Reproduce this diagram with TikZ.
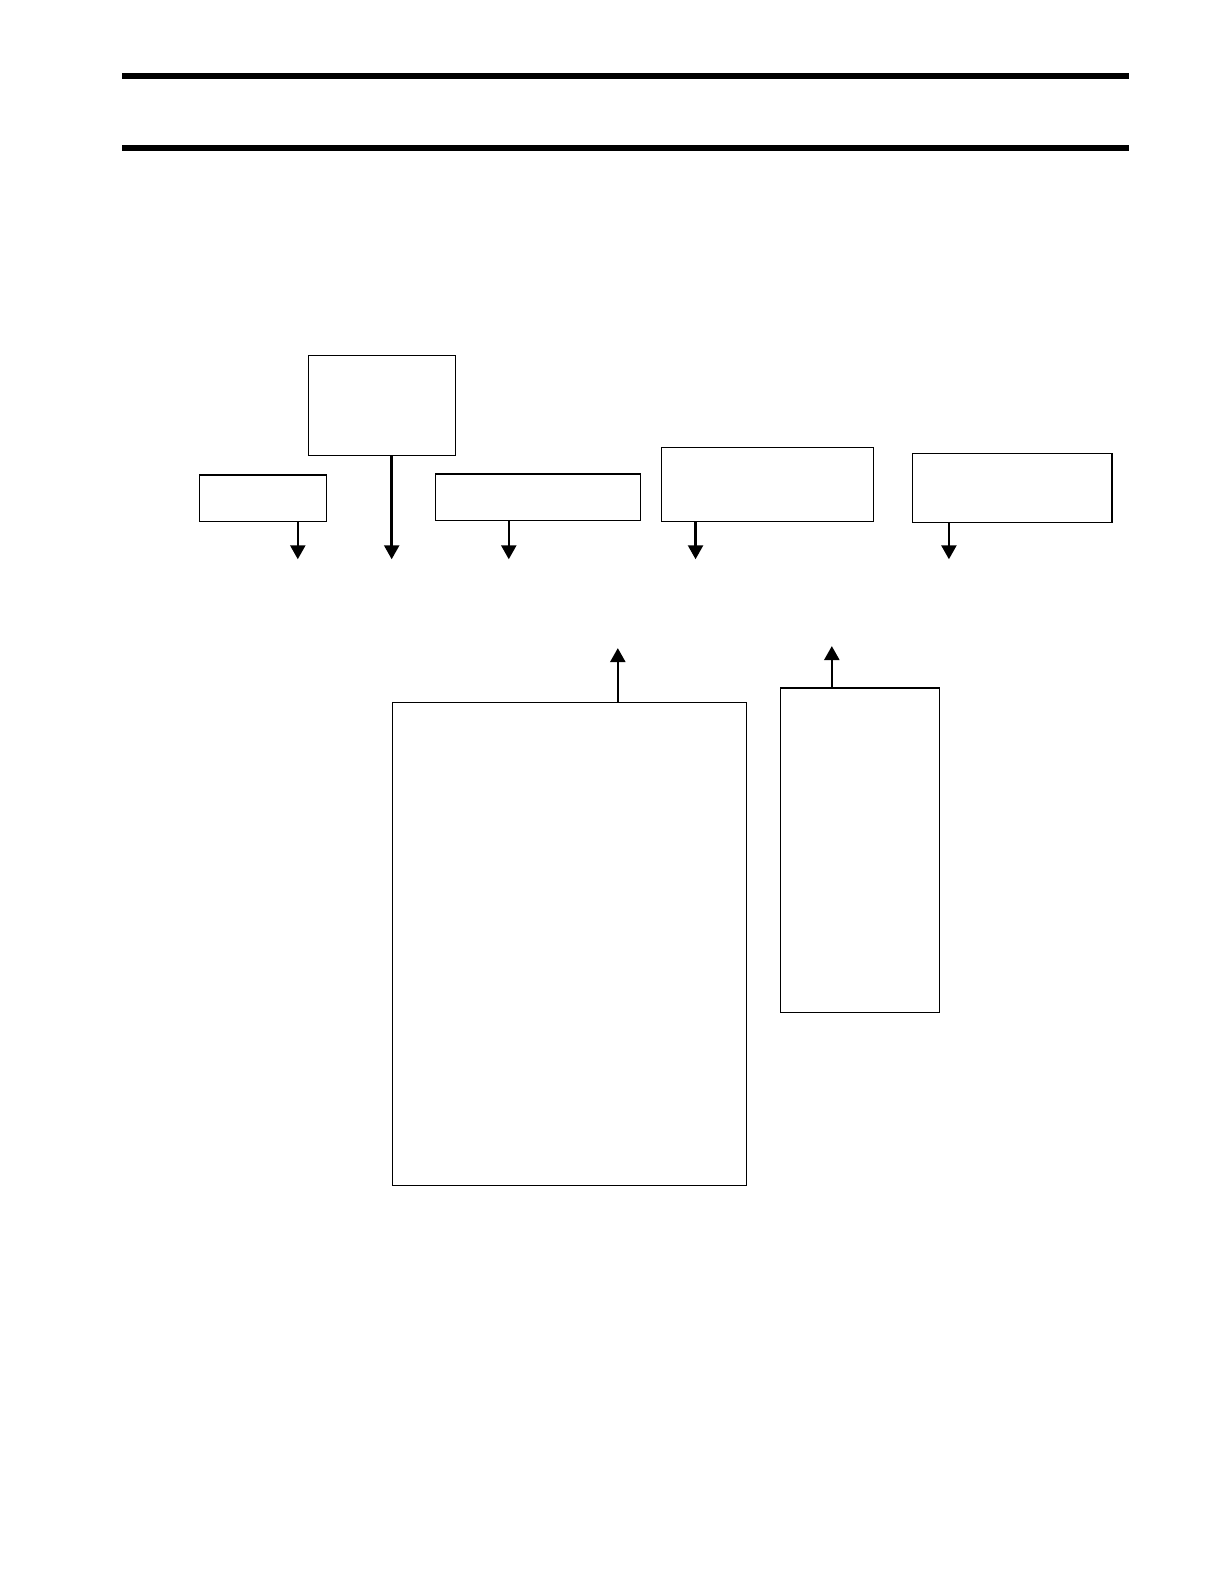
\documentclass[tikz,border=0pt]{standalone}
\usetikzlibrary{arrows.meta}
\def\s{1.0095}
\begin{document}
\begin{tikzpicture}[x=\s pt,y=-\s pt,
  box/.style={draw,line width=1.1pt,inner sep=0pt,anchor=north west},
  arr/.style={line width=2.5pt,-{Triangle[width=15pt,length=14pt]}},
  rule/.style={line width=5.7pt}]
\useasboundingbox (0,0) rectangle (1212.48,1569.1);
% rules
\coordinate (r1a) at (121,75.5); \coordinate (r1b) at (1118,75.5);
\coordinate (r2a) at (121,146.5); \coordinate (r2b) at (1118,146.5);
\draw[rule] (r1a) -- (r1b);
\draw[rule] (r2a) -- (r2b);
% boxes
\node[box,minimum width=\s*146pt,minimum height=\s*99pt] (A) at (305,352) {};
\node[box,minimum width=\s*126pt,minimum height=\s*46pt] (B) at (197,470) {};
\node[box,minimum width=\s*203pt,minimum height=\s*46pt] (C) at (431,469) {};
\node[box,minimum width=\s*210pt,minimum height=\s*73pt] (D) at (655,443) {};
\node[box,minimum width=\s*198pt,minimum height=\s*68pt] (E) at (903,449) {};
\node[box,minimum width=\s*351pt,minimum height=\s*479pt] (F) at (388,695) {};
\node[box,minimum width=\s*157pt,minimum height=\s*321pt] (G) at (773,681) {};
% arrow ends
\coordinate (bt) at (295,554);
\coordinate (at) at (388,554);
\coordinate (ct) at (504,554);
\coordinate (dt) at (689,554);
\coordinate (et) at (940,554);
\coordinate (ft) at (612,642);
\coordinate (gt) at (824,640);
\draw[arr] (B.south -| bt) -- (bt);
\draw[arr] (A.south -| at) -- (at);
\draw[arr] (C.south -| ct) -- (ct);
\draw[arr] (D.south -| dt) -- (dt);
\draw[arr] (E.south -| et) -- (et);
\draw[arr] (F.north -| ft) -- (ft);
\draw[arr] (G.north -| gt) -- (gt);
\end{tikzpicture}
\end{document}
